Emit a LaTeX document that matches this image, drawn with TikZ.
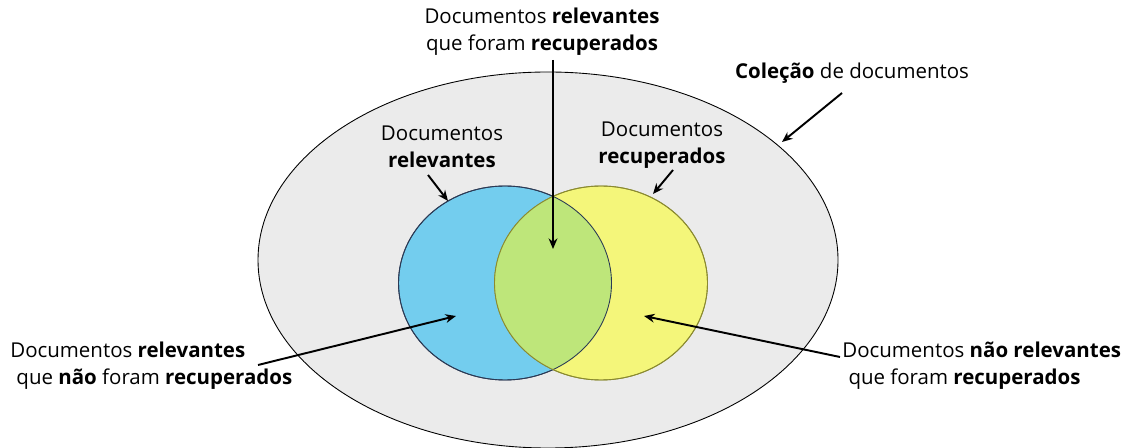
\documentclass[tikz,border=0pt]{standalone}
\usepackage{fontspec}
\setmainfont{Open Sans}
\usetikzlibrary{arrows.meta}

\definecolor{colgray}{HTML}{EBEBEB}
\definecolor{colblue}{HTML}{73CDEE}
\definecolor{colyellow}{HTML}{F4F67A}
\definecolor{colgreen}{HTML}{BEE67A}
\definecolor{bluedge}{HTML}{2B3A55}
\definecolor{yelledge}{HTML}{8A8A30}

\tikzstyle{lbl} = [inner sep=0pt, align=center, font=\fontsize{11.65}{15.2}\selectfont]
\tikzstyle{lbll} = [lbl, align=left]
\tikzstyle{arr} = [-{Stealth[length=6pt,width=5pt]}, line width=1.1pt]

\begin{document}
\begin{tikzpicture}[x=0.02cm, y=-0.02cm]
\useasboundingbox (0,0) rectangle (1124,448);
% collection
\filldraw[fill=colgray, draw=black, line width=0.5pt] (548,260) ellipse [x radius=290, y radius=188];
% sets
\filldraw[fill=colblue, draw=bluedge, line width=0.5pt] (505,283) ellipse [x radius=106.5, y radius=97];
\filldraw[fill=colyellow, draw=yelledge, line width=0.5pt] (601,283) ellipse [x radius=106.5, y radius=97];
\begin{scope}
  \clip (505,283) ellipse [x radius=106.5, y radius=97];
  \fill[colgreen] (601,283) ellipse [x radius=106.5, y radius=97];
\end{scope}
\draw[bluedge, line width=0.5pt] (505,283) ellipse [x radius=106.5, y radius=97];
\draw[yelledge, line width=0.5pt] (601,283) ellipse [x radius=106.5, y radius=97];

% labels
\node[lbl] (inter) at (542,32) {Documentos \textbf{relevantes}\\que foram \textbf{recuperados}};
\node[lbl] (rel) at (442,147) {Documentos\\\textbf{relevantes}};
\node[lbl] (rec) at (662,145) {Documentos\\\textbf{recuperados}};
\node[lbl] (colec) at (852,73) {\textbf{Coleção} de documentos};
\node[lbll, anchor=west] (relnrec) at (10,366) {Documentos \textbf{relevantes}\\\hspace{0.3em}que \textbf{não} foram \textbf{recuperados}};
\node[lbll, anchor=west] (nrelrec) at (842,366) {Documentos \textbf{não relevantes}\\\hspace{0.3em}que foram \textbf{recuperados}};

% arrow ends
\coordinate (interA) at (553,60);
\coordinate (interB) at (553,249);
\coordinate (relA) at (428,175);
\coordinate (relB) at (448,201);
\coordinate (recA) at (673,170);
\coordinate (recB) at (653,194);
\coordinate (colA) at (842,93);
\coordinate (colB) at (782,142);
\coordinate (rnA) at (258,365);
\coordinate (rnB) at (456,316);
\coordinate (nrA) at (840,357);
\coordinate (nrB) at (644,316);

\draw[arr] (interA) -- (interB);
\draw[arr] (relA) -- (relB);
\draw[arr] (recA) -- (recB);
\draw[arr] (colA) -- (colB);
\draw[arr] (rnA) -- (rnB);
\draw[arr] (nrA) -- (nrB);
\end{tikzpicture}
\end{document}
